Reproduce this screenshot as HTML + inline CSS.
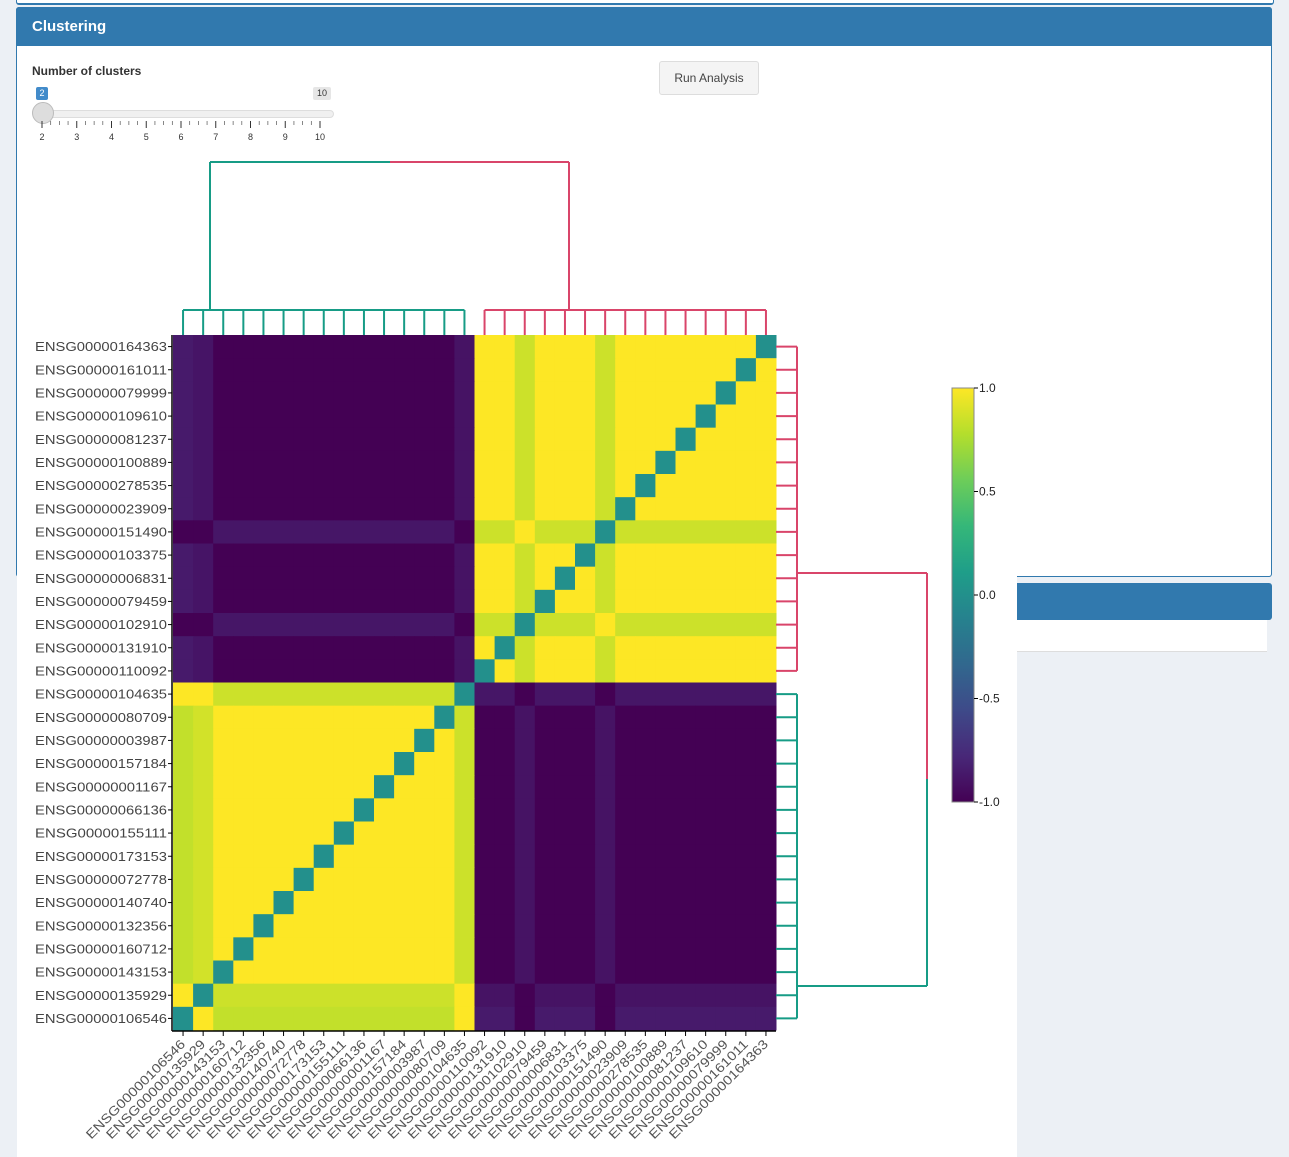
<!DOCTYPE html>
<html><head><meta charset="utf-8">
<style>
body{margin:0;width:1289px;height:1157px;background:#ecf0f5;font-family:"Liberation Sans",sans-serif;position:relative;overflow:hidden}
.abs{position:absolute}
</style></head>
<body>
<div class="abs" style="left:16px;top:-6px;width:1256px;height:9px;background:#fff;border:1px solid #3179ae;border-top:none;border-radius:0 0 3px 3px;border-bottom:2px solid #3179ae"></div>
<div class="abs" style="left:16px;top:7px;width:1254px;height:568px;background:#fff;border:1px solid #3179ae;border-radius:3px"></div>
<div class="abs" style="left:16px;top:7px;width:1256px;height:39px;background:#3179ae;border-radius:3px 3px 0 0"></div>
<div class="abs" style="left:32px;top:18px;color:#fff;font-size:15px;font-weight:bold">Clustering</div>
<div class="abs" style="left:32px;top:64px;color:#333;font-size:12px;font-weight:bold">Number of clusters</div>
<div class="abs" style="left:36px;top:87px;width:12px;height:13px;background:#428bca;color:#fff;font-size:9px;text-align:center;line-height:13px;border-radius:2px">2</div>
<div class="abs" style="left:313px;top:87px;width:18px;height:13px;background:#e6e6e6;color:#333;font-size:9px;text-align:center;line-height:13px;border-radius:2px">10</div>
<div class="abs" style="left:40px;top:110px;width:292px;height:6px;background:#f0f0f0;border:1px solid #ddd;border-radius:4px"></div>
<div class="abs" style="left:32px;top:102px;width:20px;height:20px;background:#ddd;border:1px solid #bbb;border-radius:50%"></div>
<svg class="abs" style="left:0;top:0" width="400" height="150" id="sticks"></svg>
<div class="abs" style="left:659px;top:61px;width:98px;height:32px;background:#f4f4f4;border:1px solid #ddd;border-radius:3px;font-size:12px;color:#444;text-align:center;line-height:32px">Run Analysis</div>
<div class="abs" style="left:1000px;top:583px;width:272px;height:37px;background:#3179ae;border-radius:3px"></div>
<div class="abs" style="left:1000px;top:620px;width:267px;height:31px;background:#fff;border-bottom:1px solid #ddd"></div>
<div class="abs" style="left:17px;top:150px;width:1000px;height:1007px;background:#fff"></div>
<svg class="abs" style="left:0;top:0" width="1289" height="1157" id="chart"></svg>
<script>
const genes=["ENSG00000164363","ENSG00000161011","ENSG00000079999","ENSG00000109610","ENSG00000081237","ENSG00000100889","ENSG00000278535","ENSG00000023909","ENSG00000151490","ENSG00000103375","ENSG00000006831","ENSG00000079459","ENSG00000102910","ENSG00000131910","ENSG00000110092","ENSG00000104635","ENSG00000080709","ENSG00000003987","ENSG00000157184","ENSG00000001167","ENSG00000066136","ENSG00000155111","ENSG00000173153","ENSG00000072778","ENSG00000140740","ENSG00000132356","ENSG00000160712","ENSG00000143153","ENSG00000135929","ENSG00000106546"];
const colGenes=genes.slice().reverse();
const matrix=[
[-.86,-.89,-1,-1,-1,-1,-1,-1,-1,-1,-1,-1,-1,-1,-.9,1,1,.85,1,1,1,.85,1,1,1,1,1,1,1,0],
[-.86,-.89,-1,-1,-1,-1,-1,-1,-1,-1,-1,-1,-1,-1,-.9,1,1,.85,1,1,1,.85,1,1,1,1,1,1,0,1],
[-.86,-.89,-1,-1,-1,-1,-1,-1,-1,-1,-1,-1,-1,-1,-.9,1,1,.85,1,1,1,.85,1,1,1,1,1,0,1,1],
[-.86,-.89,-1,-1,-1,-1,-1,-1,-1,-1,-1,-1,-1,-1,-.9,1,1,.85,1,1,1,.85,1,1,1,1,0,1,1,1],
[-.86,-.89,-1,-1,-1,-1,-1,-1,-1,-1,-1,-1,-1,-1,-.9,1,1,.85,1,1,1,.85,1,1,1,0,1,1,1,1],
[-.86,-.89,-1,-1,-1,-1,-1,-1,-1,-1,-1,-1,-1,-1,-.9,1,1,.85,1,1,1,.85,1,1,0,1,1,1,1,1],
[-.86,-.89,-1,-1,-1,-1,-1,-1,-1,-1,-1,-1,-1,-1,-.9,1,1,.85,1,1,1,.85,1,0,1,1,1,1,1,1],
[-.86,-.89,-1,-1,-1,-1,-1,-1,-1,-1,-1,-1,-1,-1,-.9,1,1,.85,1,1,1,.85,0,1,1,1,1,1,1,1],
[-1,-1,-.88,-.88,-.88,-.88,-.88,-.88,-.88,-.88,-.88,-.88,-.88,-.88,-1,.85,.85,1,.85,.85,.85,0,.85,.85,.85,.85,.85,.85,.85,.85],
[-.86,-.89,-1,-1,-1,-1,-1,-1,-1,-1,-1,-1,-1,-1,-.9,1,1,.85,1,1,0,.85,1,1,1,1,1,1,1,1],
[-.86,-.89,-1,-1,-1,-1,-1,-1,-1,-1,-1,-1,-1,-1,-.9,1,1,.85,1,0,1,.85,1,1,1,1,1,1,1,1],
[-.86,-.89,-1,-1,-1,-1,-1,-1,-1,-1,-1,-1,-1,-1,-.9,1,1,.85,0,1,1,.85,1,1,1,1,1,1,1,1],
[-1,-1,-.88,-.88,-.88,-.88,-.88,-.88,-.88,-.88,-.88,-.88,-.88,-.88,-1,.85,.85,0,.85,.85,.85,1,.85,.85,.85,.85,.85,.85,.85,.85],
[-.86,-.89,-1,-1,-1,-1,-1,-1,-1,-1,-1,-1,-1,-1,-.9,1,0,.85,1,1,1,.85,1,1,1,1,1,1,1,1],
[-.86,-.89,-1,-1,-1,-1,-1,-1,-1,-1,-1,-1,-1,-1,-.9,0,1,.85,1,1,1,.85,1,1,1,1,1,1,1,1],
[1,1,.85,.85,.85,.85,.85,.85,.85,.85,.85,.85,.85,.85,0,-.88,-.88,-1,-.88,-.88,-.88,-1,-.88,-.88,-.88,-.88,-.88,-.88,-.88,-.88],
[.82,.87,1,1,1,1,1,1,1,1,1,1,1,0,.85,-1,-1,-.9,-1,-1,-1,-.9,-1,-1,-1,-1,-1,-1,-1,-1],
[.82,.87,1,1,1,1,1,1,1,1,1,1,0,1,.85,-1,-1,-.9,-1,-1,-1,-.9,-1,-1,-1,-1,-1,-1,-1,-1],
[.82,.87,1,1,1,1,1,1,1,1,1,0,1,1,.85,-1,-1,-.9,-1,-1,-1,-.9,-1,-1,-1,-1,-1,-1,-1,-1],
[.82,.87,1,1,1,1,1,1,1,1,0,1,1,1,.85,-1,-1,-.9,-1,-1,-1,-.9,-1,-1,-1,-1,-1,-1,-1,-1],
[.82,.87,1,1,1,1,1,1,1,0,1,1,1,1,.85,-1,-1,-.9,-1,-1,-1,-.9,-1,-1,-1,-1,-1,-1,-1,-1],
[.82,.87,1,1,1,1,1,1,0,1,1,1,1,1,.85,-1,-1,-.9,-1,-1,-1,-.9,-1,-1,-1,-1,-1,-1,-1,-1],
[.82,.87,1,1,1,1,1,0,1,1,1,1,1,1,.85,-1,-1,-.9,-1,-1,-1,-.9,-1,-1,-1,-1,-1,-1,-1,-1],
[.82,.87,1,1,1,1,0,1,1,1,1,1,1,1,.85,-1,-1,-.9,-1,-1,-1,-.9,-1,-1,-1,-1,-1,-1,-1,-1],
[.82,.87,1,1,1,0,1,1,1,1,1,1,1,1,.85,-1,-1,-.9,-1,-1,-1,-.9,-1,-1,-1,-1,-1,-1,-1,-1],
[.82,.87,1,1,0,1,1,1,1,1,1,1,1,1,.85,-1,-1,-.9,-1,-1,-1,-.9,-1,-1,-1,-1,-1,-1,-1,-1],
[.82,.87,1,0,1,1,1,1,1,1,1,1,1,1,.85,-1,-1,-.9,-1,-1,-1,-.9,-1,-1,-1,-1,-1,-1,-1,-1],
[.82,.87,0,1,1,1,1,1,1,1,1,1,1,1,.85,-1,-1,-.9,-1,-1,-1,-.9,-1,-1,-1,-1,-1,-1,-1,-1],
[1,0,.85,.85,.85,.85,.85,.85,.85,.85,.85,.85,.85,.85,1,-.9,-.9,-1,-.9,-.9,-.9,-1,-.9,-.9,-.9,-.9,-.9,-.9,-.9,-.9],
[0,1,.82,.82,.82,.82,.82,.82,.82,.82,.82,.82,.82,.82,1,-.86,-.86,-1,-.86,-.86,-.86,-1,-.86,-.86,-.86,-.86,-.86,-.86,-.86,-.86]
];
const cbTicks=[1.0,0.5,0.0,-0.5,-1.0];
const sliderTicks=[2,3,4,5,6,7,8,9,10];

const NS="http://www.w3.org/2000/svg";
function mk(parent,tag,attrs){const e=document.createElementNS(NS,tag);for(const k in attrs)e.setAttribute(k,attrs[k]);parent.appendChild(e);return e;}
const vir=[[68,1,84],[72,40,120],[62,74,137],[49,104,142],[38,130,142],[31,158,137],[53,183,121],[109,205,89],[180,222,44],[253,231,37]];
function color(v){let t=(v+1)/2*(vir.length-1);t=Math.max(0,Math.min(vir.length-1,t));const i=Math.min(vir.length-2,Math.floor(t)),f=t-i;const c=vir[i].map((a,k)=>Math.round(a+(vir[i+1][k]-a)*f));return `rgb(${c})`;}
const X0=173,X1=776,Y0=335,Y1=1030,n=genes.length;
const cw=(X1-X0)/n,ch=(Y1-Y0)/n;
const xs=j=>X0+j*cw, ys=i=>Y0+i*ch;
const svg=document.getElementById('chart');

const st=document.getElementById('sticks');
const sx=v=>42+(v-2)*(320-42)/8;
sliderTicks.forEach(v=>{
  const l=mk(st,'line',{x1:sx(v),x2:sx(v),y1:121,y2:128,stroke:'#333','stroke-width':1});
  
  
  const t=mk(st,'text',{x:sx(v),y:140,'font-size':9,fill:'#333','text-anchor':'middle'});t.textContent=v;
  
  
  if(v<10){for(let k=1;k<4;k++){mk(st,'line',{x1:sx(v)+k*(sx(v+1)-sx(v))/4,x2:sx(v)+k*(sx(v+1)-sx(v))/4,y1:121,y2:125,stroke:'#555','stroke-width':0.7});}}
});

const g=mk(svg,'g',{});


matrix.forEach((row,i)=>row.forEach((v,j)=>{
  const r=mk(g,'rect',{x:xs(j),y:ys(i),width:cw+0.5,height:ch+0.5,fill:color(v)});
  
  
}));
mk(svg,'line',{x1:X0-1,x2:X0-1,y1:Y0,y2:Y1+1,stroke:'#000','stroke-width':1.5});
mk(svg,'line',{x1:X0-1,x2:X1,y1:Y1+1,y2:Y1+1,stroke:'#000','stroke-width':1.5});
genes.forEach((gn,i)=>{
  const y=ys(i)+ch/2;
  mk(svg,'line',{x1:X0-5,x2:X0-1,y1:y,y2:y,stroke:'#000'});
  const t=mk(svg,'text',{x:X0-6,y:y+4.5,'font-size':13,fill:'#444','text-anchor':'end',textLength:132,lengthAdjust:'spacingAndGlyphs'});t.textContent=gn;
  
  
});
colGenes.forEach((gn,j)=>{
  const x=xs(j)+cw/2;
  mk(svg,'line',{x1:x,x2:x,y1:Y1+1,y2:Y1+6,stroke:'#000'});
  const t=mk(svg,'text',{x:x+3,y:Y1+15,'font-size':13,fill:'#555','text-anchor':'end',textLength:134,lengthAdjust:'spacingAndGlyphs',transform:`rotate(-45 ${x+3} ${Y1+15})`});t.textContent=gn;
  
  
});

const GREEN='#179c86',RED='#d9456a';
const dg=mk(svg,'g',{fill:'none','stroke-width':2});


function comb(from,to,color){
  const a=xs(from)+cw/2,b=xs(to)+cw/2,yb=310;
  mk(dg,'line',{x1:a,x2:b,y1:yb,y2:yb,stroke:color});
  for(let j=from;j<=to;j++){const x=xs(j)+cw/2;mk(dg,'line',{x1:x,x2:x,y1:yb,y2:Y0,stroke:color});}
}
comb(0,14,GREEN);comb(15,29,RED);
mk(dg,'line',{x1:210,x2:210,y1:310,y2:162,stroke:GREEN});
mk(dg,'line',{x1:569,x2:569,y1:310,y2:162,stroke:RED});
mk(dg,'line',{x1:210,x2:390,y1:162,y2:162,stroke:GREEN});
mk(dg,'line',{x1:390,x2:569,y1:162,y2:162,stroke:RED});
function combR(from,to,color){
  const a=ys(from)+ch/2,b=ys(to)+ch/2,xb=797;
  mk(dg,'line',{x1:xb,x2:xb,y1:a,y2:b,stroke:color});
  for(let i=from;i<=to;i++){const y=ys(i)+ch/2;mk(dg,'line',{x1:X1,x2:xb,y1:y,y2:y,stroke:color});}
}
combR(0,14,RED);combR(15,29,GREEN);
mk(dg,'line',{x1:797,x2:927,y1:573,y2:573,stroke:RED});
mk(dg,'line',{x1:797,x2:927,y1:986,y2:986,stroke:GREEN});
mk(dg,'line',{x1:927,x2:927,y1:573,y2:779,stroke:RED});
mk(dg,'line',{x1:927,x2:927,y1:779,y2:986,stroke:GREEN});

const cb=mk(svg,'g',{});


const defs=mk(svg,'defs',{});
const lg=mk(defs,'linearGradient',{id:'vg',x1:0,y1:1,x2:0,y2:0});
vir.forEach((c,k)=>mk(lg,'stop',{offset:k/(vir.length-1),'stop-color':`rgb(${c})`}));
const CB0=388,CB1=802;
const cy=v=>CB1-(v+1)/2*(CB1-CB0);
mk(cb,'rect',{x:952,y:CB0,width:22,height:CB1-CB0,fill:'url(#vg)',stroke:'#888','stroke-width':1});
cbTicks.forEach(v=>{
  mk(cb,'line',{x1:974,x2:978,y1:cy(v),y2:cy(v),stroke:'#000'});
  const t=mk(cb,'text',{x:979,y:cy(v)+4,'font-size':12,fill:'#222'});t.textContent=v.toFixed(1);
  
  
});
</script>
</body></html>
